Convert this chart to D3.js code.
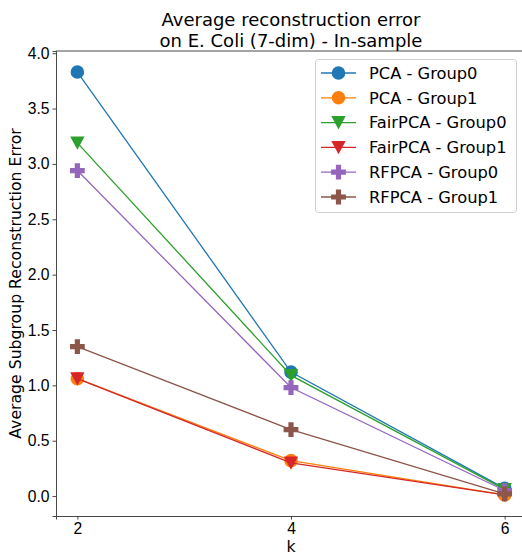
<!DOCTYPE html>
<html>
<head>
<meta charset="utf-8">
<script src="https://cdn.jsdelivr.net/npm/d3@7"></script>
<style>
  html, body { margin: 0; padding: 0; background: #fff; }
  svg { display: block; font-family: "DejaVu Sans", sans-serif; }
</style>
</head>
<body>
<svg id="chart" width="522" height="558"></svg>
<script>
// Subspace dimension k
const ks = [2, 4, 6];

// Average reconstruction error per method and subgroup
const pcaGroup0 = [3.83, 1.12, 0.07];
const pcaGroup1 = [1.06, 0.32, 0.01];
const fairGroup0 = [3.19, 1.09, 0.06];
const fairGroup1 = [1.06, 0.30, 0.01];
const rfGroup0 = [2.94, 0.98, 0.05];
const rfGroup1 = [1.35, 0.60, 0.02];

const seriesNames = ["PCA - Group0", "PCA - Group1", "FairPCA - Group0",
                     "FairPCA - Group1", "RFPCA - Group0", "RFPCA - Group1"];
const seriesValues = [pcaGroup0, pcaGroup1, fairGroup0, fairGroup1, rfGroup0, rfGroup1];
const seriesColors = ["#1f77b4", "#ff7f0e", "#2ca02c", "#d62728", "#9467bd", "#8c564b"];
const seriesMarkers = ["circle", "circle", "triDown", "triDown", "plus", "plus"];

const yTicks = [0.0, 0.5, 1.0, 1.5, 2.0, 2.5, 3.0, 3.5, 4.0];

const svg = d3.select("#chart");
const plotL = 56, plotR = 526, plotT = 51, plotB = 516;

const x = d3.scaleLinear().domain([1.8, 6.2]).range([plotL, plotR]);
const y = d3.scaleLinear().domain([-0.18, 4.02]).range([plotB, plotT]);

// marker path generators, centred at origin
function markerPath(kind) {
  if (kind === "circle") {
    const r = 6.8;
    return `M${r},0A${r},${r} 0 1,1 ${-r},0A${r},${r} 0 1,1 ${r},0Z`;
  }
  if (kind === "triDown") {
    const s = 7.2;
    return `M${-s},${-s * 0.9}L${s},${-s * 0.9}L0,${s * 0.95}Z`;
  }
  // filled plus
  const a = 7.4, b = 2.6;
  return `M${-b},${-a}L${b},${-a}L${b},${-b}L${a},${-b}L${a},${b}L${b},${b}L${b},${a}L${-b},${a}L${-b},${b}L${-a},${b}L${-a},${-b}L${-b},${-b}Z`;
}

// axes
const axisColor = "#333";
const gx = svg.append("g").attr("transform", `translate(0,${plotB})`)
  .call(d3.axisBottom(x).tickValues(ks).tickFormat(d3.format("d")).tickSizeOuter(0).tickSize(3.5).tickPadding(3));
const gy = svg.append("g").attr("transform", `translate(${plotL},0)`)
  .call(d3.axisLeft(y).tickValues(yTicks).tickFormat(d3.format(".1f")).tickSizeOuter(0).tickSize(3.5).tickPadding(3));
[gx, gy].forEach(g => {
  g.select(".domain").attr("stroke", axisColor).attr("stroke-width", 0.9);
  g.selectAll(".tick line").attr("stroke", axisColor).attr("stroke-width", 0.9);
  g.selectAll(".tick text").attr("fill", "#000").style("font-size", "15.7px");
});
// top spine
svg.append("line").attr("x1", plotL).attr("x2", plotR).attr("y1", plotT).attr("y2", plotT)
  .attr("stroke", axisColor).attr("stroke-width", 0.9);

// series
const line = d3.line().x((d, i) => x(ks[i])).y(d => y(d));
seriesValues.forEach((vals, si) => {
  const g = svg.append("g");
  g.append("path").attr("d", line(vals)).attr("fill", "none")
    .attr("stroke", seriesColors[si]).attr("stroke-width", 1.3);
  g.selectAll("path.m").data(vals).enter().append("path").attr("class", "m")
    .attr("transform", (d, i) => `translate(${x(ks[i])},${y(d)})`)
    .attr("d", markerPath(seriesMarkers[si]))
    .attr("fill", seriesColors[si]);
});

// title and axis labels
const title = svg.append("text").attr("x", (plotL + plotR) / 2).attr("text-anchor", "middle")
  .style("font-size", "18px").attr("fill", "#000");
title.append("tspan").attr("x", (plotL + plotR) / 2).attr("y", 26).text("Average reconstruction error");
title.append("tspan").attr("x", (plotL + plotR) / 2).attr("y", 47).text("on E. Coli (7-dim) - In-sample");

svg.append("text").attr("x", (plotL + plotR) / 2).attr("y", 552).attr("text-anchor", "middle")
  .style("font-size", "15.7px").attr("fill", "#000").text("k");

svg.append("text").attr("transform", `translate(21,${(plotT + plotB) / 2}) rotate(-90)`)
  .attr("text-anchor", "middle").style("font-size", "15.7px").attr("fill", "#000")
  .text("Average Subgroup Reconstruction Error");

// legend
const lg = svg.append("g");
lg.append("rect").attr("x", 315.5).attr("y", 59.5).attr("width", 201).attr("height", 153)
  .attr("rx", 3).attr("fill", "#fff").attr("fill-opacity", 0.8)
  .attr("stroke", "#d0d0d0").attr("stroke-width", 1);
seriesNames.forEach((name, i) => {
  const cy = 73 + i * 24.8;
  lg.append("line").attr("x1", 321).attr("x2", 356).attr("y1", cy).attr("y2", cy)
    .attr("stroke", seriesColors[i]).attr("stroke-width", 1.3);
  lg.append("path").attr("transform", `translate(338.5,${cy})`)
    .attr("d", markerPath(seriesMarkers[i])).attr("fill", seriesColors[i]);
  lg.append("text").attr("x", 369).attr("y", cy + 5.8).style("font-size", "16.3px")
    .attr("fill", "#000").text(name);
});
</script>
</body>
</html>
